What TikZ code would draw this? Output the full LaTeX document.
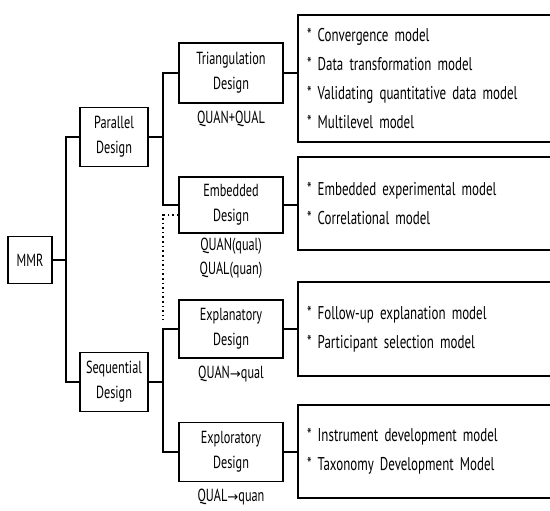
\documentclass[tikz,border=0pt]{standalone}
\usepackage{fontspec}
\setmainfont{PT Sans}[FakeStretch=0.7]
\newfontfamily\arrowfont{DejaVu Sans}[Scale=0.75]
\usetikzlibrary{positioning}

\tikzset{
    design/.style={draw, line width=1.4pt, minimum width=104pt, minimum height=58pt, align=center, inner sep=2pt, font=\fontsize{17.5}{25}\selectfont},
    branch/.style={design, minimum width=68pt, minimum height=59pt},
    models/.style={draw, line width=1.4pt, minimum width=255pt, text width=237pt, inner xsep=9pt, align=left, font=\fontsize{18.5}{29}\selectfont},
    tag/.style={inner sep=1pt, align=center, font=\fontsize{17.5}{24}\selectfont},
    conn/.style={line width=1.6pt},
    dots/.style={line width=1.6pt, dash pattern=on 1.6pt off 3pt}
}

\begin{document}
\begin{tikzpicture}[x=1pt, y=-1pt]

    \useasboundingbox (0,0) rectangle (550,511);

    \node[design, minimum width=44pt, minimum height=47pt] (mmr) at (30,260) {MMR};

    \node[branch] (par) at (114,137) {Parallel\\Design};
    \node[branch] (seq) at (114,382) {Sequential\\Design};

    \node[design, minimum height=60pt] (tri) at (231,73) {Triangulation\\Design};
    \node[design, minimum height=56pt] (emb) at (231,205) {Embedded\\Design};
    \node[design] (expl) at (231,329) {Explanatory\\Design};
    \node[design, minimum height=59pt] (explo) at (231,452) {Exploratory\\Design};

    \node[tag, below=6pt of tri] (triq) {QUAN+QUAL};
    \node[tag, below=3pt of emb] (embq) {QUAN(qual)\\QUAL(quan)};
    \node[tag, below=6pt of expl] (explq) {QUAN{\arrowfont →}qual};
    \node[tag, below=6pt of explo] (exploq) {QUAL{\arrowfont →}quan};

    \node[models, minimum height=127pt] (m1) at (425.5,78.5) {{*} Convergence model\\{*} Data transformation model\\{*} Validating quantitative data model\\{*} Multilevel model};
    \node[models, minimum height=93pt] (m2) at (425.5,203.5) {{*} Embedded experimental model\\{*} Correlational model};
    \node[models, minimum height=94pt] (m3) at (425.5,329) {{*} Follow-up explanation model\\{*} Participant selection model};
    \node[models, minimum height=93pt] (m4) at (425.5,451.5) {{*} Instrument development model\\{*} Taxonomy Development Model};

    \coordinate (ja) at (66,260);
    \coordinate (jb) at (163,137);
    \coordinate (jc) at (163,382);
    \coordinate (jd) at (163,320);

    % tree
    \draw[conn] (mmr.east) -- (ja);
    \draw[conn] (par.west) -| (ja) |- (seq.west);
    \draw[conn] (par.east) -- (jb);
    \draw[conn] (tri.west) -| (jb) |- (emb.west);
    \draw[conn] (seq.east) -- (jc);
    \draw[conn] (expl.west) -| (jc) |- (explo.west);
    \draw[dots] ([yshift=-10pt]emb.west) -| (jd);

    % models
    \draw[conn] (tri.east) -- (tri.east -| m1.west);
    \draw[conn] (emb.east) -- (emb.east -| m2.west);
    \draw[conn] (expl.east) -- (expl.east -| m3.west);
    \draw[conn] (explo.east) -- (explo.east -| m4.west);

\end{tikzpicture}
\end{document}
